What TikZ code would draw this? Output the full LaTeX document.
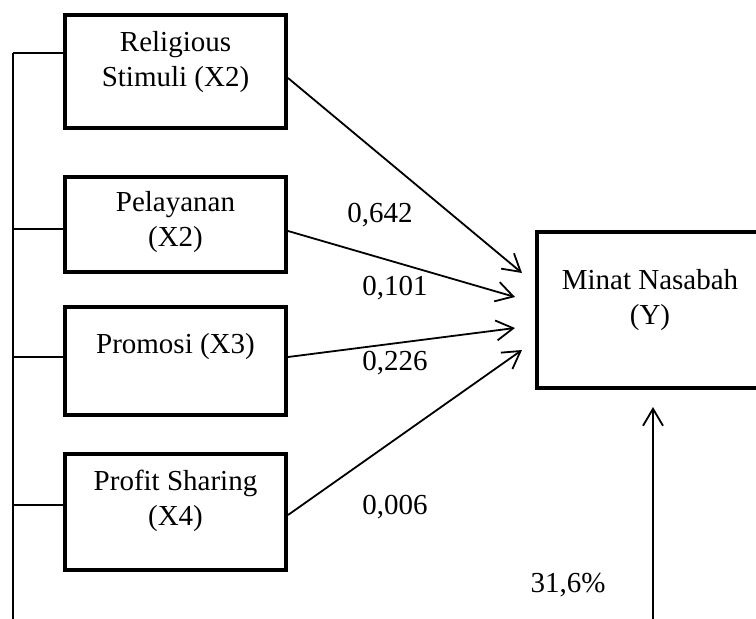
\documentclass[tikz,border=0pt]{standalone}
\usepackage{fontspec}
\setmainfont{Liberation Serif}
\usetikzlibrary{arrows.meta,calc}
\begin{document}
\begin{tikzpicture}[x=1pt,y=-1pt,
  every node/.style={font=\fontsize{29}{35}\selectfont},
  varbox/.style={draw,line width=4pt,inner sep=0pt},
  txt/.style={align=center,inner sep=0pt},
  conn/.style={line width=1.8pt},
  arr/.style={line width=1.8pt,-{Straight Barb[length=17pt,width=20pt,line width=1.8pt]}},
  tick/.style={line width=1.5pt}]
\useasboundingbox (0,0) rectangle (756,619);
\clip (0,0) rectangle (756,619);
% boxes
\node[varbox,minimum width=221pt,minimum height=113pt] (b1) at (175.5,71.5) {};
\node[varbox,minimum width=221pt,minimum height=95pt] (b2) at (175.5,224.5) {};
\node[varbox,minimum width=221pt,minimum height=108pt] (b3) at (175.5,361) {};
\node[varbox,minimum width=221pt,minimum height=116pt] (b4) at (175.5,512) {};
\node[varbox,minimum width=226pt,minimum height=156pt] (y) at (650,310) {};
% texts
\node[txt] (t1) at (175.5,62) {Religious\\Stimuli (X2)};
\node[txt] (t2) at (175.5,222) {Pelayanan\\(X2)};
\node[txt] (t3) at (175.5,347) {Promosi (X3)};
\node[txt] (t4) at (175.5,501) {Profit Sharing\\(X4)};
\node[txt] (ty) at (650,300) {Minat Nasabah\\(Y)};
% spine
\coordinate (sTop) at (13,53);
\coordinate (sBot) at (13,625);
\draw[tick] (sTop) -- (sBot);
\draw[tick] (sTop) -- (b1.west |- sTop);
\coordinate (s2) at (13,229);
\coordinate (s3) at (13,357);
\coordinate (s4) at (13,505);
\draw[tick] (s2) -- (b2.west |- s2);
\draw[tick] (s3) -- (b3.west |- s3);
\draw[tick] (s4) -- (b4.west |- s4);
% arrows
\coordinate (e1) at (522,273);
\coordinate (e2) at (515,297);
\coordinate (e3) at (515,328);
\coordinate (e4) at (522,350);
\draw[arr] ($(b1.east)+(0,6.5)$) -- (e1);
\draw[arr] ($(b2.east)+(0,6.5)$) -- (e2);
\draw[arr] ($(b3.east)+(0,-4)$) -- (e3);
\draw[arr] ($(b4.east)+(0,3)$) -- (e4);
\coordinate (yb) at (653,625);
\draw[arr] (yb) -- ($(y.south -| yb)+(0,17)$);
% labels
\node[txt] (l1) at (380,215) {0,642};
\node[txt] (l2) at (395,288) {0,101};
\node[txt] (l3) at (395,363) {0,226};
\node[txt] (l4) at (395,507) {0,006};
\node[txt] (l5) at (568,585) {31,6\%};
\end{tikzpicture}
\end{document}
